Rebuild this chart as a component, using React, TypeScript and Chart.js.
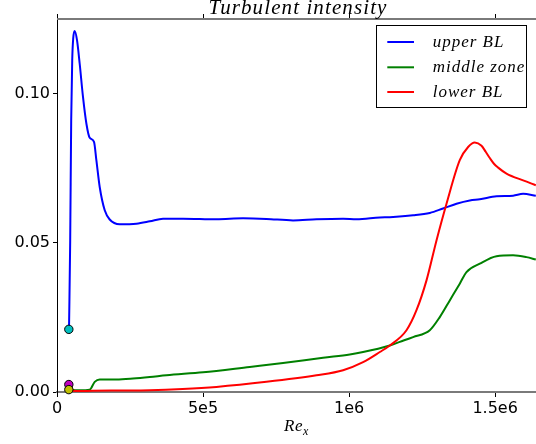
import React, { useEffect, useRef } from "react";
import { Chart, registerables } from "chart.js";

Chart.register(...registerables);

// ---- data ----
const upperX = [41100, 45200, 48600, 52100, 55500, 60600, 68500, 77700, 89000, 100700, 112000, 126700, 134900, 146200, 163400, 180500, 214700, 271900, 317800, 363000, 431500, 545900, 637000, 717100, 808200, 888400, 979500, 1025400, 1105300, 1139400, 1219200, 1276400, 1321900, 1367800, 1413400, 1447600, 1504800, 1561600, 1595900, 1639400];
const upperY = [0.021, 0.0508, 0.091, 0.1112, 0.1185, 0.121, 0.1179, 0.110, 0.0989, 0.0899, 0.0852, 0.0838, 0.0776, 0.0687, 0.0609, 0.0578, 0.0562, 0.0564, 0.0572, 0.0581, 0.0581, 0.0579, 0.0582, 0.058, 0.0575, 0.0579, 0.0581, 0.0579, 0.0585, 0.0586, 0.0592, 0.06, 0.0615, 0.0631, 0.0642, 0.0646, 0.0656, 0.0658, 0.0664, 0.0658];

const middleX = [41100, 50000, 77700, 112000, 129100, 146200, 203400, 260300, 317800, 374700, 500000, 660000, 774000, 911000, 1002400, 1048000, 1139400, 1173600, 1219200, 1276400, 1310600, 1344800, 1379000, 1402000, 1447600, 1504800, 1561600, 1607500, 1639400];
const middleY = [0.0012, 0.0008, 0.0006, 0.0008, 0.0034, 0.0042, 0.0042, 0.0045, 0.0050, 0.0056, 0.0066, 0.0084, 0.0097, 0.0115, 0.0126, 0.0134, 0.0156, 0.0168, 0.0184, 0.0207, 0.0251, 0.0307, 0.0363, 0.0402, 0.043, 0.0455, 0.0458, 0.0452, 0.0444];

const lowerX = [41100, 80000, 120000, 200000, 317800, 430000, 545900, 717100, 888400, 979500, 1048000, 1105300, 1139400, 1196600, 1230800, 1265100, 1299300, 1333600, 1379000, 1407600, 1430500, 1453500, 1467800, 1481900, 1496000, 1510300, 1539000, 1595900, 1639400];
const lowerY = [0.0005, 0.0003, 0.0004, 0.0005, 0.0006, 0.001, 0.0017, 0.0034, 0.0056, 0.0073, 0.01, 0.0134, 0.0156, 0.0207, 0.0274, 0.0374, 0.0508, 0.0631, 0.0777, 0.0821, 0.0836, 0.0825, 0.0805, 0.0784, 0.0765, 0.0752, 0.0732, 0.0709, 0.0693];

const markerX = [40500, 40500, 40500];
const markerY = [0.021, 0.0025, 0.0008];
const markerColors = ["#00bfbf", "#bf00bf", "#bfbf00"];

const seriesNames = ["upper BL", "middle zone", "lower BL"];
const seriesColors = ["#0000ff", "#008000", "#ff0000"];

const xTicks = [0, 500000, 1000000, 1500000];
const xTickLabels = ["0", "5e5", "1e6", "1.5e6"];
const yTicks = [0, 0.05, 0.1];
const yTickLabels = ["0.00", "0.05", "0.10"];

const titleText = "Turbulent intensity";

const toPts = (xs: number[], ys: number[]) => xs.map((x, i) => ({ x, y: ys[i] }));

const decorPlugin = {
  id: "decor",
  afterDraw(chart: any) {
    const { ctx, chartArea: a, scales } = chart;
    ctx.save();
    // top spine
    ctx.strokeStyle = "#7a7a7a";
    ctx.lineWidth = 2;
    ctx.beginPath();
    ctx.moveTo(a.left, Math.round(a.top));
    ctx.lineTo(a.right, Math.round(a.top));
    ctx.stroke();
    // top ticks (outward)
    ctx.strokeStyle = "#000";
    ctx.lineWidth = 1;
    xTicks.forEach((v) => {
      const px = Math.round(scales.x.getPixelForValue(v)) + 0.5;
      ctx.beginPath();
      ctx.moveTo(px, a.top - 1);
      ctx.lineTo(px, a.top - 5);
      ctx.stroke();
    });
    // title
    ctx.fillStyle = "#000";
    ctx.font = 'italic 21px "Liberation Serif"';
    try { (ctx as any).letterSpacing = "1.1px"; } catch (e) {}
    ctx.textAlign = "center";
    ctx.textBaseline = "alphabetic";
    ctx.fillText(titleText, 298, 13.7);

    // legend
    const lx0 = 376.5, ly0 = 25.5, lx1 = 526.5, ly1 = 107.5;
    ctx.fillStyle = "#fff";
    ctx.fillRect(lx0, ly0, lx1 - lx0, ly1 - ly0);
    ctx.strokeStyle = "#000";
    ctx.lineWidth = 1;
    ctx.strokeRect(lx0, ly0, lx1 - lx0, ly1 - ly0);
    const rows = [42, 67.3, 92];
    ctx.font = 'italic 17px "Liberation Serif"';
    try { (ctx as any).letterSpacing = "1px"; } catch (e) {}
    ctx.textAlign = "left";
    seriesNames.forEach((name, i) => {
      ctx.strokeStyle = seriesColors[i];
      ctx.lineWidth = 2;
      ctx.beginPath();
      ctx.moveTo(387.3, rows[i]);
      ctx.lineTo(414, rows[i]);
      ctx.stroke();
      ctx.fillStyle = "#000";
      ctx.fillText(name, 432.7, rows[i] + 4.8);
    });

    // x label Re_x
    try { (ctx as any).letterSpacing = "0.5px"; } catch (e) {}
    ctx.font = 'italic 17px "Liberation Serif"';
    ctx.fillText("Re", 284, 431);
    const w = ctx.measureText("Re").width;
    try { (ctx as any).letterSpacing = "0px"; } catch (e) {}
    ctx.font = 'italic 12px "Liberation Serif"';
    ctx.fillText("x", 284 + w, 435);
    ctx.restore();
  },
};

export default function App() {
  const ref = useRef<HTMLCanvasElement | null>(null);
  useEffect(() => {
    document.body.style.margin = "0";
    const canvas = ref.current;
    if (!canvas) return;
    const chart = new Chart(canvas, {
      type: "line",
      data: {
        datasets: [
          {
            label: "markers",
            data: toPts(markerX, markerY),
            showLine: false,
            pointRadius: 4.2,
            pointBackgroundColor: markerColors,
            pointBorderColor: "#000",
            pointBorderWidth: 1,
            order: 0,
            clip: false as any,
          },
          {
            label: seriesNames[2],
            data: toPts(lowerX, lowerY),
            borderColor: seriesColors[2],
            borderWidth: 2,
            pointRadius: 0,
            cubicInterpolationMode: "monotone",
            fill: false,
            order: 1,
          },
          {
            label: seriesNames[1],
            data: toPts(middleX, middleY),
            borderColor: seriesColors[1],
            borderWidth: 2,
            pointRadius: 0,
            cubicInterpolationMode: "monotone",
            fill: false,
            order: 2,
          },
          {
            label: seriesNames[0],
            data: toPts(upperX, upperY),
            borderColor: seriesColors[0],
            borderWidth: 2,
            pointRadius: 0,
            cubicInterpolationMode: "monotone",
            fill: false,
            order: 3,
          },
        ] as any,
      },
      options: {
        animation: false,
        responsive: false,
        events: [],
        layout: { autoPadding: false, padding: { top: 19, left: 0, right: 0, bottom: 0 } },
        plugins: { legend: { display: false }, tooltip: { enabled: false }, title: { display: false } },
        scales: {
          x: {
            type: "linear",
            min: 0,
            max: 1640000,
            afterBuildTicks: (s: any) => { s.ticks = xTicks.map((v) => ({ value: v })); },
            afterFit: (s: any) => { s.height = 52; s.paddingLeft = 0; s.paddingRight = 0; },
            ticks: {
              callback: (_v: any, i: number) => xTickLabels[i],
              font: { family: "DejaVu Sans", size: 16 },
              color: "#000",
              padding: 2,
              maxRotation: 0,
              autoSkip: false,
            },
            grid: { drawOnChartArea: false, drawTicks: true, tickLength: 5, color: "#000" },
            border: { display: true, color: "#7a7a7a", width: 2 },
          },
          y: {
            type: "linear",
            min: 0,
            max: 0.125,
            afterBuildTicks: (s: any) => { s.ticks = yTicks.map((v) => ({ value: v })); },
            afterFit: (s: any) => { s.width = 57; s.paddingTop = 0; s.paddingBottom = 0; },
            ticks: {
              callback: (_v: any, i: number) => yTickLabels[i],
              font: { family: "DejaVu Sans", size: 16 },
              color: "#000",
              padding: 3,
            },
            grid: { drawOnChartArea: false, drawTicks: true, tickLength: 4, color: "#000" },
            border: { display: true, color: "#000", width: 1 },
          },
        },
      } as any,
      plugins: [decorPlugin],
    });
    return () => chart.destroy();
  }, []);
  return <canvas ref={ref} width={536} height={444} style={{ display: "block" }} />;
}
